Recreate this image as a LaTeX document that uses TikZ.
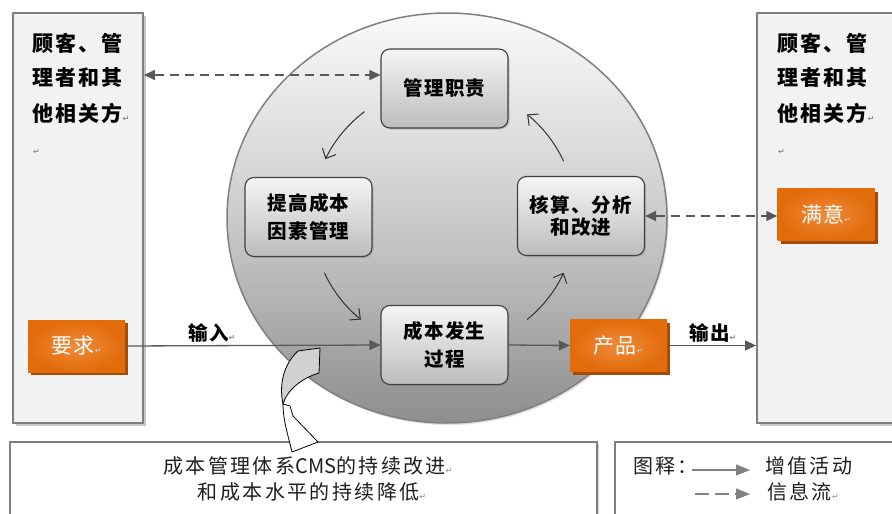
\documentclass[tikz,border=0pt]{standalone}
\usepackage{fontspec}
\setmainfont{Noto Sans CJK SC}
\newfontfamily\symf{DejaVu Sans}
\usetikzlibrary{arrows.meta,shadows,calc,shapes.geometric}
\definecolor{sidefill}{HTML}{F2F2F2}
\definecolor{sideline}{HTML}{7F7F7F}
\definecolor{orgmain}{HTML}{E26B0A}
\definecolor{orglite}{HTML}{EF8B3B}
\definecolor{orgshad}{HTML}{A64B06}
\definecolor{arrgray}{HTML}{595959}
\definecolor{boxline}{HTML}{404040}
\definecolor{pmgray}{HTML}{8C8C8C}
\definecolor{circtop}{HTML}{FAFAFA}
\definecolor{circmid}{HTML}{CBCBCB}
\definecolor{circbot}{HTML}{8E8E8E}
\newcommand{\pmk}[1][pmgray]{{\symf\fontsize{8}{8}\selectfont\textcolor{#1}{↵}}}
\newcommand{\nols}[1]{{\addfontfeature{LetterSpace=0}#1}}
\tikzset{
  sidebox/.style={draw=sideline, line width=1.8pt, fill=sidefill, inner sep=0pt,
    drop shadow={shadow xshift=3pt, shadow yshift=-3pt, fill=black!22, opacity=1}},
  framebox/.style={draw=sideline, line width=1.8pt, fill=white, inner sep=0pt,
    drop shadow={shadow xshift=2pt, shadow yshift=-2pt, fill=black!18, opacity=1}},
  sidetext/.style={inner sep=0pt, anchor=west,
    font=\fontsize{21}{21}\selectfont\bfseries\addfontfeature{LetterSpace=10}},
  cbox/.style={draw=boxline, line width=1.1pt, rounded corners=9pt,
    top color=white!96!black, bottom color=black!26,
    minimum width=127pt, minimum height=79pt, align=center, inner sep=2pt,
    font=\fontsize{19.5}{28.5}\selectfont\bfseries\addfontfeature{LetterSpace=6}},
  cshadow/.style={drop shadow={shadow xshift=1.5pt, shadow yshift=-1.5pt, opacity=0.35}},
  orgbox/.style={inner color=orglite, outer color=orgmain,
    minimum width=97pt, minimum height=52pt, inner sep=0pt, text=white,
    font=\fontsize{21}{21}\selectfont\addfontfeature{LetterSpace=6},
    drop shadow={shadow xshift=3pt, shadow yshift=-3pt, fill=orgshad, opacity=1}},
  flow/.style={draw=arrgray, line width=1.3pt, -{Triangle[length=11pt,width=10pt]}},
  info/.style={draw=arrgray, line width=1.3pt, dash pattern=on 9pt off 6pt,
    {Triangle[length=11pt,width=10pt]}-{Triangle[length=11pt,width=10pt]}},
  cycarr/.style={draw=black!80, line width=1pt, -{Straight Barb[length=8pt,width=15pt]}},
  lbl/.style={inner sep=0pt,
    font=\fontsize{19.5}{19.5}\selectfont\bfseries\addfontfeature{LetterSpace=6}},
  plaintext/.style={inner sep=0pt, text=black!88,
    font=\fontsize{20}{20}\selectfont\addfontfeature{LetterSpace=12}},
  legarr/.style={draw=black!50, line width=1.3pt, -{Triangle[length=14pt,width=11pt]}},
}
\begin{document}
\begin{tikzpicture}[x=1pt,y=-1pt]
\useasboundingbox (0,0) rectangle (892,514);
\clip (0,0) rectangle (892,514);
\fill[white] (0,0) rectangle (892,514);

% side boxes
\node[sidebox, minimum width=130pt, minimum height=410pt] (lbox) at (78,218) {};
\node[sidebox, minimum width=160pt, minimum height=410pt] (rbox) at (837,218) {};
\node[sidetext] (l1) at (32,43) {顾客、管};
\node[sidetext] (l2) at (32,78) {理者和其};
\node[sidetext] (l3) at (32,113) {他相关方\pmk};
\node[sidetext] (l4) at (33,152) {\pmk};
\node[sidetext] (r1) at (777,43) {顾客、管};
\node[sidetext] (r2) at (777,78) {理者和其};
\node[sidetext] (r3) at (777,113) {他相关方\pmk};
\node[sidetext] (r4) at (778,152) {\pmk};

% bottom boxes
\node[framebox, minimum width=587pt, minimum height=100pt] (bbox) at (303.5,492) {};
\node[framebox, minimum width=285pt, minimum height=100pt] (legbox) at (757.5,492) {};

% big circle
\node[ellipse, minimum width=440pt, minimum height=410pt, inner sep=0pt,
  draw=black!50, line width=1.5pt, top color=circtop, bottom color=circbot,
  middle color=circmid,
  drop shadow={shadow xshift=1.5pt, shadow yshift=-2pt, opacity=0.25}] (circ) at (447,218) {};

% cycle arcs
\coordinate (cyc) at (444,217);
\draw[cycarr] ($(cyc)+(-127:132)$) arc[start angle=-127, end angle=-154, radius=132];
\draw[cycarr] ($(cyc)+(-205:132)$) arc[start angle=-205, end angle=-231, radius=132];
\draw[cycarr] ($(cyc)+(-309:132)$) arc[start angle=-309, end angle=-335, radius=132];
\draw[cycarr] ($(cyc)+(-25:132)$) arc[start angle=-25, end angle=-51, radius=132];

% process boxes
\node[cbox, cshadow] (mgmt) at (444.5,88.5) {管理职责};
\node[cbox, cshadow] (imp) at (308.5,217) {提高成本\\因素管理};
\node[cbox, cshadow, font=\fontsize{19.5}{22}\selectfont\bfseries\addfontfeature{LetterSpace=6}] (calc) at (581,216) {核算、分析\\和改进};
\node[cbox, cshadow] (proc) at (444.5,345) {成本发生\\过程};

% orange boxes
\node[orgbox] (yq) at (76.5,346) {要求\pmk[black!20]};
\node[orgbox] (cp) at (618.5,345.5) {产品\pmk[black!20]};
\node[orgbox] (my) at (826,214.5) {满意\pmk[black!20]};

% flows
\draw[flow] (yq.east) -- (proc.west);
\draw[flow] (proc.east) -- (cp.west);
\draw[flow] (cp.east) -- (rbox.west |- cp.east);
\node[lbl] (inlbl) at (212,333) {输入\pmk};
\node[lbl] (outlbl) at (713,333) {输出\pmk};

% information flows
\coordinate (ty) at (0,75);
\draw[info] (lbox.east |- ty) -- (mgmt.west |- ty);
\draw[info] (calc.east) -- (my.west |- calc.east);

% bottom text
\node[plaintext] (t1) at (308,466) {成本管理体系\nols{CMS}的持续改进\pmk};
\node[plaintext] (t2) at (312,492) {和成本水平的持续降低\pmk};

% legend
\node[plaintext, anchor=west] (leg) at (633,466) {图释：};
\coordinate (la1) at (692,470);
\coordinate (la2) at (750,470);
\coordinate (lb1) at (695,494);
\coordinate (lb2) at (750,494);
\draw[legarr] (la1) -- (la2);
\draw[legarr, dash pattern=on 14pt off 6pt] (lb1) -- (lb2);
\node[plaintext, anchor=west] (leg1) at (765,466) {增值活动};
\node[plaintext, anchor=west] (leg2) at (767,492) {信息流\pmk};

% curved block arrow
\filldraw[fill=white, draw=black, line width=0.8pt]
  (283,404) -- (290,406) -- (293,416) -- (318,442) -- (292,452)
  .. controls (288,435) and (283,420) .. (283,404) -- cycle;
\filldraw[fill=black!18, draw=black, line width=0.8pt]
  (298,351) -- (320,348) -- (319,373)
  .. controls (302,378) and (287,390) .. (283,404)
  .. controls (279,385) and (283,365) .. (298,351) -- cycle;
\end{tikzpicture}
\end{document}
